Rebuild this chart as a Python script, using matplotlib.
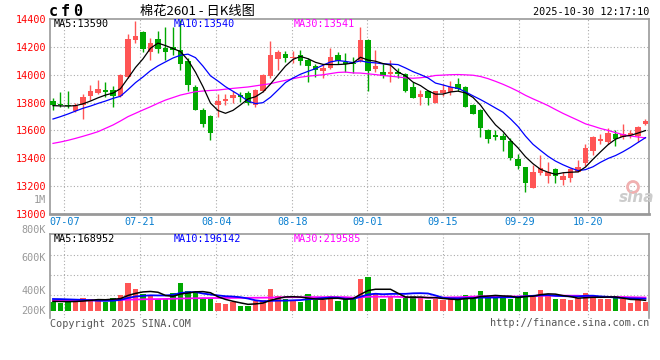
import matplotlib
matplotlib.use('Agg')
import matplotlib.pyplot as plt
from matplotlib.patches import Circle

plt.rcParams['font.family'] = ['DejaVu Sans Mono']

# 棉花2601 日K, 2025-07-03 .. 2025-10-30 (80 sessions)
opens = [13810, 13790, 13785, 13740, 13785, 13845, 13870, 13890, 13890, 13845,
         13985, 14250, 14310, 14160, 14255, 14195, 14200, 14180, 14095, 13915,
         13750, 13700, 13780, 13810, 13830, 13855, 13870, 13785, 13885, 13990,
         14115, 14150, 14120, 14140, 14105, 14065, 14030, 14050, 14140, 14090,
         14085, 14095, 14250, 14040, 14020, 14005, 14020, 14005, 13910, 13840,
         13880, 13800, 13870, 13875, 13935, 13915, 13780, 13745, 13605, 13565,
         13560, 13525, 13395, 13335, 13185, 13295, 13270, 13320, 13245, 13260,
         13305, 13365, 13450, 13525, 13520, 13575, 13550, 13570, 13560, 13645]
highs = [13835, 13875, 13880, 13800, 13860, 13925, 13960, 13950, 13920, 14005,
         14290, 14385, 14315, 14265, 14315, 14345, 14340, 14390, 14120, 13925,
         13760, 13710, 13860, 13865, 13885, 13875, 13880, 13895, 14005, 14240,
         14175, 14170, 14170, 14175, 14120, 14080, 14075, 14195, 14160, 14155,
         14130, 14345, 14255, 14175, 14080, 14105, 14045, 14010, 13950, 13890,
         13890, 13885, 13930, 13955, 13980, 13920, 13790, 13755, 13610, 13605,
         13580, 13545, 13430, 13340, 13350, 13425, 13370, 13330, 13300, 13330,
         13385, 13500, 13560, 13575, 13615, 13600, 13645, 13605, 13635, 13680]
lows = [13750, 13765, 13760, 13730, 13685, 13820, 13860, 13840, 13770, 13840,
        13975, 14230, 14165, 14105, 14155, 14105, 14140, 14035, 13885, 13745,
        13625, 13530, 13700, 13780, 13800, 13805, 13785, 13770, 13875, 13980,
        14035, 14090, 14085, 14070, 13945, 13985, 13980, 14040, 14075, 14020,
        14010, 14090, 13885, 14020, 13980, 13950, 13975, 13875, 13830, 13785,
        13785, 13795, 13850, 13855, 13885, 13765, 13715, 13555, 13510, 13530,
        13450, 13390, 13325, 13155, 13185, 13280, 13220, 13225, 13210, 13230,
        13300, 13345, 13425, 13500, 13505, 13490, 13540, 13545, 13520, 13640]
closes = [13780, 13780, 13775, 13780, 13840, 13880, 13895, 13875, 13850, 14000,
          14255, 14280, 14185, 14230, 14185, 14165, 14175, 14075, 13925, 13750,
          13645, 13585, 13810, 13825, 13855, 13840, 13800, 13890, 13995, 14140,
          14165, 14120, 14130, 14100, 14060, 14035, 14045, 14125, 14100, 14075,
          14075, 14250, 14025, 14060, 13990, 14020, 14005, 13885, 13835, 13865,
          13835, 13880, 13890, 13910, 13895, 13770, 13720, 13615, 13540, 13555,
          13530, 13405, 13345, 13220, 13305, 13330, 13300, 13270, 13275, 13325,
          13340, 13475, 13550, 13540, 13580, 13540, 13575, 13585, 13625, 13670]
volumes = [139000, 123000, 160000, 160000, 213000, 192000, 187000, 149000, 203000, 256000,
           448000, 352000, 267000, 240000, 192000, 192000, 283000, 448000, 320000, 288000,
           213000, 192000, 128000, 107000, 139000, 85000, 75000, 160000, 176000, 352000,
           245000, 192000, 176000, 149000, 272000, 171000, 176000, 240000, 160000, 192000,
           224000, 512000, 544000, 267000, 192000, 224000, 192000, 240000, 245000, 213000,
           176000, 192000, 176000, 192000, 176000, 256000, 213000, 320000, 229000, 229000,
           213000, 192000, 213000, 309000, 256000, 336000, 256000, 192000, 192000, 176000,
           213000, 288000, 229000, 192000, 192000, 224000, 192000, 128000, 171000, 139000]

# moving averages already running when the window starts
ma5_head = [13778, 13776, 13775, 13778]
ma10_head = [13682, 13699, 13718, 13739, 13759, 13775, 13794, 13811, 13830]
ma30_head = [13507, 13517, 13529, 13543, 13558, 13574, 13591, 13615, 13639, 13668,
             13699, 13723, 13747, 13770, 13795, 13818, 13836, 13854, 13866, 13878,
             13883, 13887, 13890, 13896, 13902, 13907, 13912, 13920, 13928]
vma5_head = [155000, 152000, 150000, 152000]
vma10_head = [192000, 190000, 186000, 182000, 178000, 172000, 165000, 162000, 165000]
vma30_head = [165000, 166000, 167000, 168000, 170000, 171000, 172000, 174000, 176000, 178000,
              181000, 184000, 187000, 189000, 191000, 193000, 196000, 199000, 202000, 204000,
              206000, 207000, 208000, 209000, 210000, 210000, 211000, 212000, 213000]

date_labels = ['07-07', '07-21', '08-04', '08-18', '09-01', '09-15', '09-29', '10-20']
date_pos = [1.5, 11.6, 21.8, 31.9, 41.9, 52.0, 62.2, 71.4]
price_ticks = [14400, 14200, 14000, 13800, 13600, 13400, 13200, 13000]
vol_grid = [256000, 576000, 896000]
vol_labels = ['800K', '600K', '400K', '200K']
vol_label_y = [230, 258, 291, 311]   # pixel rows of the volume scale texts

RED = '#ff5555'
GREEN = '#00a800'
GRID = '#aaaaaa'
EDGE = '#999999'
W, H = 660, 360


def ma(vals, n, head):
    out = list(head)
    for i in range(len(head), len(vals)):
        out.append(sum(vals[i - n + 1:i + 1]) / n)
    return out


def rect(x0, y0, x1, y1):
    return [x0 / W, 1 - y1 / H, (x1 - x0) / W, (y1 - y0) / H]


def ftext(x, y, s, **kw):
    fig.text(x / W, 1 - y / H, s, va='center', **kw)


xs = list(range(len(closes)))
cols = [RED if c >= o else GREEN for o, c in zip(opens, closes)]

fig = plt.figure(figsize=(6.6, 3.6), dpi=100)

'''K线'''
ax = fig.add_axes(rect(50, 19, 649, 214))
ax.set_xlim(-0.4, 79.47)
ax.set_ylim(13000, 14400)
for x in date_pos:
    ax.axvline(x, color=GRID, lw=0.8, ls=(0, (1, 2)), zorder=0)
for p in price_ticks[1:-1]:
    ax.axhline(p, color=GRID, lw=0.8, ls=(0, (1, 2)), zorder=0)

ax.vlines(xs, lows, highs, colors=cols, lw=1, zorder=2)
body_h = [max(abs(c - o), 7) for o, c in zip(opens, closes)]
body_b = [min(o, c) for o, c in zip(opens, closes)]
ax.bar(xs, body_h, bottom=body_b, width=0.72, color=cols, lw=0, zorder=3)

ax.plot(xs, ma(closes, 30, ma30_head), color='#ff00ff', lw=0.9, zorder=4)
ax.plot(xs, ma(closes, 10, ma10_head), color='#0000ff', lw=0.9, zorder=4)
ax.plot(xs, ma(closes, 5, ma5_head), color='black', lw=0.9, zorder=4)

ax.set_yticks(price_ticks)
ax.set_yticklabels([str(p) for p in price_ticks], color='red', fontsize=7.3)
ax.set_xticks(date_pos)
ax.set_xticklabels(date_labels, color='#0a7fd0', fontsize=7.3)
ax.tick_params(length=0, pad=2.5)
for s in ax.spines.values():
    s.set_color(EDGE)
    s.set_linewidth(1.2)
ax.spines['bottom'].set_linewidth(2)

'''成交量'''
vx = fig.add_axes(rect(50, 234, 649, 318))
vx.set_xlim(-0.4, 79.47)
vx.set_ylim(-112000, 1232000)
for x in date_pos:
    vx.axvline(x, color=GRID, lw=0.8, ls=(0, (1, 2)), zorder=0)
for v in vol_grid:
    vx.axhline(v, color=GRID, lw=0.8, ls=(0, (1, 2)), zorder=0)
vx.bar(xs, volumes, width=0.75, color=cols, lw=0, zorder=2)
vx.plot(xs, ma(volumes, 30, vma30_head), color='#ff00ff', lw=1.3, zorder=3)
vx.plot(xs, ma(volumes, 10, vma10_head), color='#0000ff', lw=1.3, zorder=3)
vx.plot(xs, ma(volumes, 5, vma5_head), color='black', lw=1.1, zorder=3)
vx.set_xticks([])
vx.set_yticks([])
for s in vx.spines.values():
    s.set_color(EDGE)
    s.set_linewidth(1.2)
vx.spines['bottom'].set_visible(False)

'''文字'''
for ch, x in zip('cf0', [49, 61, 73]):
    ftext(x, 12, ch, fontsize=11, fontweight='bold')
ftext(140, 11, '棉花2601 - 日K线图', fontsize=9.5,
      family=['Noto Sans CJK SC', 'DejaVu Sans'])
ftext(649, 12, '2025-10-30 12:17:10', fontsize=7.3, ha='right')

ftext(54, 24, 'MA5:13590', fontsize=7.3, color='black')
ftext(174, 24, 'MA10:13540', fontsize=7.3, color='#0000ff')
ftext(294, 24, 'MA30:13541', fontsize=7.3, color='#ff00ff')
ftext(54, 238.5, 'MA5:168952', fontsize=7.3, color='black')
ftext(174, 238.5, 'MA10:196142', fontsize=7.3, color='#0000ff')
ftext(294, 238.5, 'MA30:219585', fontsize=7.3, color='#ff00ff')

ftext(46, 200, '1M', fontsize=7.3, color='#999999', ha='right')
for lab, y in zip(vol_labels, vol_label_y):
    ftext(46, y, lab, fontsize=7.3, color='#999999', ha='right')

ftext(50, 324, 'Copyright 2025 SINA.COM', fontsize=7.3, color='#555555')
ftext(649, 323, 'http://finance.sina.com.cn', fontsize=7.3, color='#555555', ha='right')

# sina watermark
fig.patches.append(Circle((6.33, 3.6 - 1.87), 0.055, transform=fig.dpi_scale_trans,
                          fill=False, ec='#f0b0b0', lw=2))
ftext(637, 197, 'sina', fontsize=11, fontweight='bold', style='italic',
      color='#cccccc', ha='center', family='DejaVu Sans')

fig.savefig('out.png', dpi=100)
